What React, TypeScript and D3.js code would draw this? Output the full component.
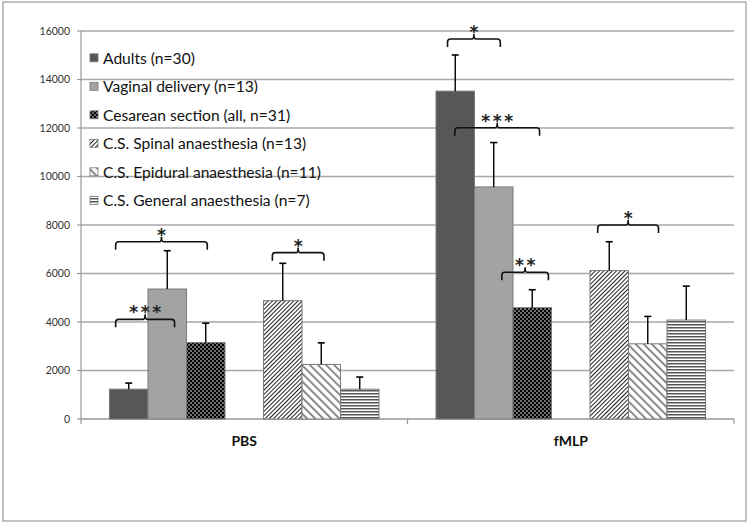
import React from "react";
import * as d3 from "d3";

const categories = ["PBS", "fMLP"];
const seriesNames = [
  "Adults (n=30)",
  "Vaginal delivery (n=13)",
  "Cesarean section (all, n=31)",
  "C.S. Spinal anaesthesia (n=13)",
  "C.S. Epidural anaesthesia (n=11)",
  "C.S. General anaesthesia (n=7)",
];
const seriesSlots = [0, 1, 2, 4, 5, 6];
const pbsValues = [1230, 5360, 3150, 4880, 2250, 1230];
const pbsErrors = [250, 1580, 800, 1540, 890, 500];
const fmlpValues = [13520, 9570, 4590, 6120, 3100, 4080];
const fmlpErrors = [1490, 1830, 740, 1190, 1130, 1400];
const yTicks = [0, 2000, 4000, 6000, 8000, 10000, 12000, 14000, 16000];

// significance brackets: category, from slot, to slot, level, number of stars
const bracketCats = ["PBS", "PBS", "PBS", "fMLP", "fMLP", "fMLP", "fMLP"];
const bracketFrom = [0.16, 0.16, 4.23, 0.3, 0.49, 1.71, 4.2];
const bracketTo = [2.54, 1.69, 5.57, 1.67, 2.69, 2.92, 5.78];
const bracketLevel = [7310, 4110, 6860, 15670, 12010, 6050, 8000];
const bracketStars = [1, 3, 1, 1, 3, 2, 1];

const fills = ["#575757", "#a3a3a3", "url(#dots)", "url(#spinal)", "url(#epidural)", "url(#general)"];

export default function App() {
  const W = 749, H = 523;
  const left = 81, right = 734, top = 31, bottom = 419;
  const y = d3.scaleLinear().domain([0, 16000]).range([bottom, top]);
  const x0 = d3.scaleBand<string>().domain(categories).range([left, right]).paddingInner(0).paddingOuter(0);
  const slots = d3.range(7).map(String);
  const x1 = d3.scaleBand<string>().domain(slots).range([0, x0.bandwidth()]).paddingOuter(0.74).paddingInner(0);
  const bw = x1.bandwidth();
  const slotX = (cat: string, s: number) => (x0(cat) as number) + (x1("0") as number) + s * bw;
  const font = "Lato, 'Open Sans', sans-serif";

  const data = [
    { cat: "PBS", values: pbsValues, errs: pbsErrors },
    { cat: "fMLP", values: fmlpValues, errs: fmlpErrors },
  ];

  return (
    <div style={{ position: "absolute", left: 0, top: 0 }}>
      <svg width={W} height={H} style={{ display: "block", background: "#fff" }}>
        <defs>
          <pattern id="dots" patternUnits="userSpaceOnUse" width="4" height="4">
            <rect width="4" height="4" fill="#000" />
            <circle cx="1" cy="1" r="0.8" fill="#fff" />
            <circle cx="3" cy="3" r="0.8" fill="#fff" />
          </pattern>
          <pattern id="spinal" patternUnits="userSpaceOnUse" width="3" height="3" patternTransform="rotate(45)">
            <rect width="3" height="3" fill="#fff" />
            <line x1="0.5" y1="0" x2="0.5" y2="3" stroke="#222" strokeWidth="1" />
          </pattern>
          <pattern id="epidural" patternUnits="userSpaceOnUse" width="5.7" height="5.7" patternTransform="rotate(-45)">
            <rect width="5.7" height="5.7" fill="#fff" />
            <line x1="1" y1="0" x2="1" y2="5.7" stroke="#8a8a8a" strokeWidth="2" />
          </pattern>
          <pattern id="general" patternUnits="userSpaceOnUse" width="3" height="3">
            <rect width="3" height="3" fill="#fff" />
            <line x1="0" y1="0.75" x2="3" y2="0.75" stroke="#555" strokeWidth="1.5" />
          </pattern>
        </defs>
        <rect x={3} y={2} width={743} height={519} fill="#fff" stroke="#9a9a9a" strokeWidth={1.2} />

        {yTicks.map((t) => (
          <g key={t}>
            {t > 0 && <line x1={left} x2={right} y1={y(t)} y2={y(t)} stroke="#a8a8a8" strokeWidth={1.3} />}
            <line x1={left - 4} x2={left} y1={y(t)} y2={y(t)} stroke="#999" strokeWidth={1.2} />
            <text x={70} y={y(t)} dy="0.35em" textAnchor="end" fontFamily={font} fontSize={10.5} fill="#333">
              {t}
            </text>
          </g>
        ))}
        <line x1={left} x2={left} y1={top} y2={bottom} stroke="#999" strokeWidth={1.2} />
        <line x1={left} x2={right} y1={bottom} y2={bottom} stroke="#999" strokeWidth={1.3} />
        {[left, (x0("fMLP") as number), right].map((xv, i) => (
          <line key={i} x1={xv} x2={xv} y1={bottom} y2={bottom + 5} stroke="#999" strokeWidth={1.2} />
        ))}
        {categories.map((c) => (
          <text key={c} x={(x0(c) as number) + x0.bandwidth() / 2} y={446} textAnchor="middle" fontFamily={font} fontWeight="bold" fontSize={14} fill="#111">
            {c}
          </text>
        ))}

        {data.map((g) =>
          g.values.map((v, i) => {
            const xb = slotX(g.cat, seriesSlots[i]);
            const cx = xb + bw / 2;
            return (
              <g key={g.cat + i}>
                <rect x={xb} y={y(v)} width={bw} height={y(0) - y(v)} fill={fills[i]} stroke="#7a7a7a" strokeWidth={1} />
                <line x1={cx} x2={cx} y1={y(v)} y2={y(v + g.errs[i])} stroke="#000" strokeWidth={1.4} />
                <line x1={cx - 3.5} x2={cx + 3.5} y1={y(v + g.errs[i])} y2={y(v + g.errs[i])} stroke="#000" strokeWidth={1.6} />
              </g>
            );
          })
        )}

        {bracketStars.map((n, i) => {
          const xa = slotX(bracketCats[i], bracketFrom[i]);
          const xb = slotX(bracketCats[i], bracketTo[i]);
          const yy = y(bracketLevel[i]);
          const xm = (xa + xb) / 2;
          const r = 3;
          const d = `M${xa},${yy + 8} L${xa},${yy + r} Q${xa},${yy} ${xa + r},${yy} L${xm - 2},${yy} Q${xm},${yy} ${xm},${yy - 5} Q${xm},${yy} ${xm + 2},${yy} L${xb - r},${yy} Q${xb},${yy} ${xb},${yy + r} L${xb},${yy + 8}`;
          const spacing = 11.5;
          return (
            <g key={i}>
              <path d={d} fill="none" stroke="#111" strokeWidth={1.6} />
              {d3.range(n).map((k) => (
                <text key={k} x={xm + (k - (n - 1) / 2) * spacing} y={yy - 1} textAnchor="middle" fontFamily="'DejaVu Sans', sans-serif" fontWeight="bold" fontSize={17} fill="#222">
                  *
                </text>
              ))}
            </g>
          );
        })}

        {seriesNames.map((n, i) => {
          const yc = 58.3 + i * 28.5;
          return (
            <g key={n}>
              <rect x={90} y={yc - 4.5} width={8} height={8} fill={fills[i]} stroke="#777" strokeWidth={0.8} />
              <text x={103} y={yc} dy="0.35em" fontFamily={font} fontSize={15.6} fill="#111">
                {n}
              </text>
            </g>
          );
        })}
      </svg>
    </div>
  );
}
